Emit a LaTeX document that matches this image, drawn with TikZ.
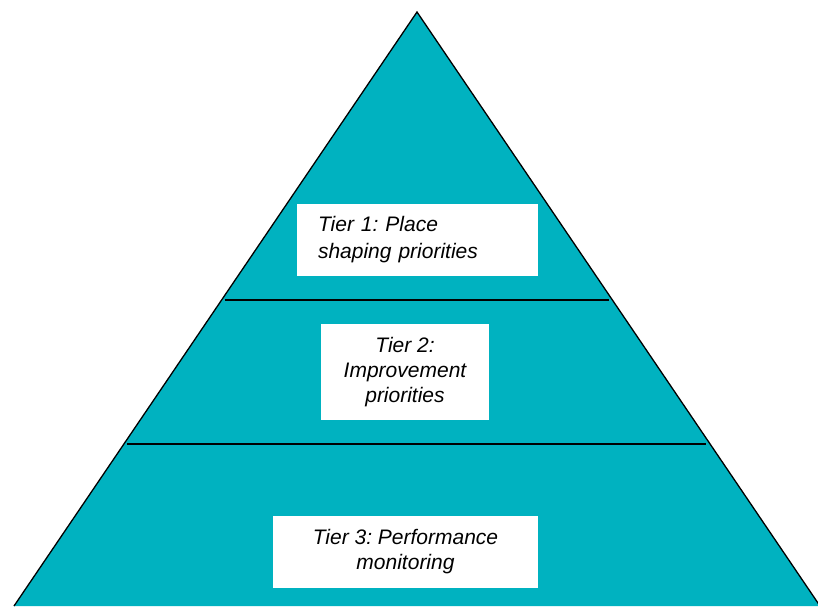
\documentclass[tikz,border=0pt]{standalone}
\usepackage{fontspec}
\setmainfont{Liberation Sans}
\usetikzlibrary{calc}
\definecolor{tierteal}{RGB}{0,178,192}
\tikzset{
  tierbox/.style={fill=white, draw=none, inner sep=0pt, font=\fontsize{21}{25}\selectfont\itshape\frenchspacing}
}
\begin{document}
\begin{tikzpicture}[x=1pt, y=-1pt]
    \useasboundingbox (0,0) rectangle (818,606);
    \coordinate (top) at (417,12); \coordinate (left) at (14,606); \coordinate (right) at (820,606);
    \fill[tierteal] (top) -- (left) -- (right) -- cycle;
    \draw[line width=1.3pt, line join=miter] (left) -- (top) -- (right);
    % dividers between the tiers
    \coordinate (l1) at ($(top)!0.485!(left)+(3,0)$); \coordinate (r1) at ($(top)!0.485!(right)+(-3,0)$);
    \coordinate (l2) at ($(top)!0.727!(left)+(3,0)$); \coordinate (r2) at ($(top)!0.727!(right)+(-4,0)$);
    \draw[line width=1.3pt] (l1) -- (r1);
    \draw[line width=1.3pt] (l2) -- (r2);
    \node[tierbox, minimum width=241, minimum height=72, text width=199, align=left,
          font=\fontsize{21}{27}\selectfont\itshape\frenchspacing] (tier1) at (417.5,240) {Tier 1: Place\\shaping priorities};
    \node[tierbox, minimum width=168, minimum height=96, align=center] (tier2) at (405,372) {Tier 2:\\Improvement\\priorities};
    \node[tierbox, minimum width=265, minimum height=72, align=center] (tier3) at (405.5,552) {Tier 3: Performance\\monitoring};
\end{tikzpicture}
\end{document}
